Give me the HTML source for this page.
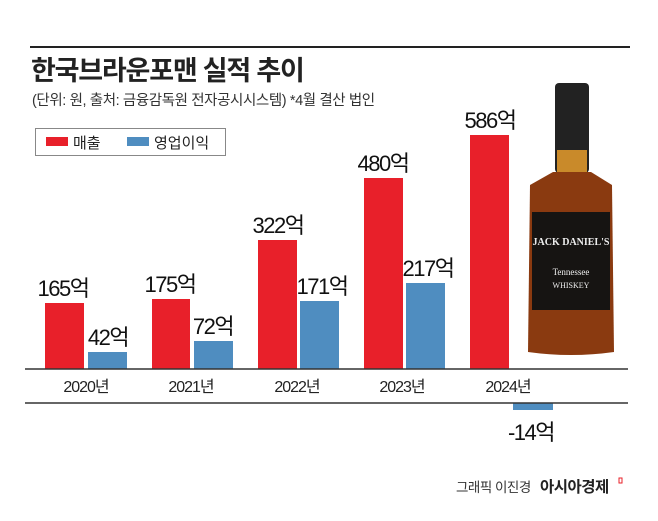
<!DOCTYPE html>
<html><head><meta charset="utf-8"><style>
body{margin:0;background:#fff;}
svg{display:block;font-family:"Liberation Sans","Noto Sans CJK KR",sans-serif;}
</style></head><body>
<svg width="658" height="521" viewBox="0 0 658 521">
<rect width="658" height="521" fill="#fff"/>
<line x1="30" y1="47" x2="630" y2="47" stroke="#222" stroke-width="2"/>
<text x="31" y="80" font-size="27" font-weight="bold" fill="#222" letter-spacing="-1.2">한국브라운포맨 실적 추이</text>
<text x="32" y="105" font-size="14.5" fill="#333" letter-spacing="-0.4">(단위: 원, 출처: 금융감독원 전자공시시스템)  *4월 결산 법인</text>
<rect x="35.5" y="128.5" width="190" height="27" fill="#fff" stroke="#888"/>
<rect x="46" y="137" width="22" height="9" fill="#e8202a"/>
<text x="73" y="148" font-size="15" fill="#222">매출</text>
<rect x="127" y="137" width="22" height="9" fill="#4f8dc0"/>
<text x="154" y="148" font-size="15" fill="#222">영업이익</text>
<g fill="#e8202a">
<rect x="45" y="303" width="39" height="66"/>
<rect x="152" y="299" width="38" height="70"/>
<rect x="258" y="240" width="39" height="129"/>
<rect x="364" y="178" width="39" height="191"/>
<rect x="470" y="135" width="39" height="234"/>
</g>
<g fill="#4f8dc0">
<rect x="88" y="352" width="39" height="17"/>
<rect x="194" y="341" width="39" height="28"/>
<rect x="300" y="301" width="39" height="68"/>
<rect x="406" y="283" width="39" height="86"/>
<rect x="513" y="403" width="40" height="7"/>
</g>
<g>
<rect x="555" y="83" width="34" height="90" rx="4" fill="#222"/>
<rect x="557" y="150" width="30" height="22" fill="#c98a2a"/>
<path d="M553 172 L591 172 L612 185 L614 352 Q571 358 528 352 L530 185 Z" fill="#8a3a10"/>
<rect x="532" y="212" width="78" height="98" fill="#161412"/>
<text x="571" y="245" font-size="10" font-weight="bold" fill="#eee" text-anchor="middle" font-family="Liberation Serif,serif">JACK DANIEL'S</text>
<text x="571" y="275" font-size="9" fill="#eee" text-anchor="middle" font-family="Liberation Serif,serif">Tennessee</text>
<text x="571" y="288" font-size="8" fill="#eee" text-anchor="middle" font-family="Liberation Serif,serif">WHISKEY</text>
</g>
<line x1="25" y1="369" x2="628" y2="369" stroke="#333" stroke-width="1.5"/>
<line x1="25" y1="403" x2="628" y2="403" stroke="#333" stroke-width="1.5"/>
<g font-size="16" fill="#222" text-anchor="middle" letter-spacing="-1">
<text x="86" y="392">2020년</text>
<text x="191" y="392">2021년</text>
<text x="297" y="392">2022년</text>
<text x="402" y="392">2023년</text>
<text x="508" y="392">2024년</text>
</g>
<g font-size="22" fill="#111" text-anchor="middle" letter-spacing="-1.5">
<text x="63" y="296">165억</text>
<text x="170" y="292">175억</text>
<text x="278" y="233">322억</text>
<text x="383" y="171">480억</text>
<text x="490" y="128">586억</text>
<text x="108" y="345">42억</text>
<text x="213" y="334">72억</text>
<text x="322" y="294">171억</text>
<text x="428" y="276">217억</text>
<text x="531" y="440">-14억</text>
</g>
<text x="456" y="492" font-size="13.5" fill="#333" letter-spacing="-0.5">그래픽 이진경</text>
<text x="540" y="492" font-size="15.5" font-weight="bold" fill="#222" letter-spacing="-0.5">아시아경제</text>
<rect x="619" y="478" width="3" height="5" fill="none" stroke="#e8202a" stroke-width="1"/>
</svg>
</body></html>
